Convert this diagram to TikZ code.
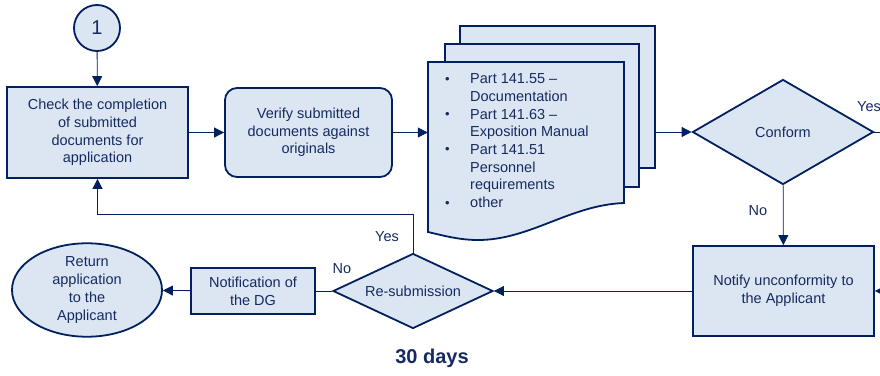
\documentclass[tikz,border=0pt]{standalone}
\usepackage{fontspec}
\setmainfont{Liberation Sans}
\usepackage{tikz}
\usetikzlibrary{arrows.meta,shapes.geometric,positioning}
\usepackage{xcolor}
\definecolor{dgnavy}{RGB}{0,32,96}
\definecolor{dgfill}{RGB}{220,230,242}
\definecolor{dgtext}{RGB}{22,42,98}
\tikzstyle{arrow} = [line width=0.8pt,-{Triangle[length=10pt,width=10pt]},color=dgnavy]
\tikzstyle{line} = [line width=0.8pt,color=dgnavy]
\tikzstyle{procbox} = [draw=dgnavy,line width=1.8pt,fill=dgfill,text=dgtext,align=center,inner sep=0pt]
\tikzstyle{decision} = [diamond,draw=dgnavy,line width=1.8pt,fill=dgfill,text=dgtext,inner sep=0pt]
\tikzstyle{docpage} = [draw=dgnavy,line width=1.8pt,fill=dgfill]
\tikzstyle{lbl} = [text=dgtext]
\newcommand{\dgbullet}{\makebox[25pt][l]{\raisebox{0.5pt}{\fontsize{13}{13}\selectfont\textbullet}}}

\begin{document}
\begin{tikzpicture}[x=1pt,y=-1pt,font=\fontsize{14.5}{17.7}\selectfont]
\clip (0,0) rectangle (880,375);

% Start connector
\node[circle,draw=dgnavy,line width=1.8pt,fill=dgfill,text=dgtext,minimum size=46pt,inner sep=0pt,font=\fontsize{20}{24}\selectfont] (start) at (97,28) {1};

% First row
\node[procbox,minimum width=181pt,minimum height=91pt] (check) at (97.5,132.5) {Check the completion\\of submitted\\documents for\\application};
\node[procbox,rounded corners=12pt,minimum width=167pt,minimum height=89pt] (verify) at (308.5,132.5) {Verify submitted\\documents against\\originals};

% Document stack
\node[docpage,minimum width=195pt,minimum height=142pt,inner sep=0pt] (docback) at (557.5,97) {};
\node[docpage,minimum width=194pt,minimum height=143pt,inner sep=0pt] (docmid) at (542,115.5) {};
\node[minimum width=196pt,minimum height=170pt,inner sep=0pt] (docfront) at (526,147) {};
\draw[docpage] (428,62) -- (624,62) -- (624,203)
  .. controls (570,205) and (530,240) .. (478,240)
  .. controls (460,240) and (445,236) .. (428,232) -- cycle;
\node[lbl,anchor=north west,align=left,inner sep=0pt] (doclist) at (445,73.5) {%
\dgbullet Part 141.55 --\\
\hspace*{25pt}Documentation\\
\dgbullet Part 141.63 --\\
\hspace*{25pt}Exposition Manual\\
\dgbullet Part 141.51\\
\hspace*{25pt}Personnel\\
\hspace*{25pt}requirements\\
\dgbullet other};

% Decisions and notices
\node[decision,aspect=2.1,minimum width=181pt,minimum height=105pt] (conform) at (783,132) {Conform};
\node[procbox,minimum width=181pt,minimum height=90pt] (notify) at (783.5,291) {Notify unconformity to\\the Applicant};
\node[decision,aspect=2.1,minimum width=160pt,minimum height=75pt] (resub) at (413,291) {Re-submission};
\node[procbox,minimum width=124pt,minimum height=46pt] (notedg) at (253,291) {Notification of\\the DG};
\node[ellipse,draw=dgnavy,line width=1.8pt,fill=dgfill,text=dgtext,align=center,inner sep=0pt,minimum width=150pt,minimum height=76pt] (return) at (87,290) {Return\\application\\to the\\Applicant};

% Off-page ends
\coordinate (yesout) at (900,132);
\coordinate (loopin) at (900,291);

% Connectors
\draw[arrow] (start) -- (check);
\draw[arrow] (check) -- (verify);
\draw[arrow] (verify) -- (verify -| docfront.west);
\draw[arrow] (docback.east |- conform.west) -- (conform);
\draw[line] (conform) -- (yesout);
\draw[arrow] (conform) -- (notify);
\draw[arrow] (loopin) -- (notify);
\draw[arrow] (notify) -- (resub);
\draw[arrow] (resub.north) -- ++(0,-38) -| (check.south);
\draw[line] (resub) -- (notedg);
\draw[arrow] (notedg) -- (return);

% Labels
\node[lbl,anchor=west,inner sep=0pt] (yesconf) at (857,107) {Yes};
\node[lbl] (noconf) at (758,211) {No};
\node[lbl] (yesresub) at (387,237) {Yes};
\node[lbl] (noresub) at (342,269) {No};
\node[lbl,font=\bfseries\fontsize{20}{24}\selectfont] (days) at (432,358) {30 days};
\end{tikzpicture}
\end{document}
